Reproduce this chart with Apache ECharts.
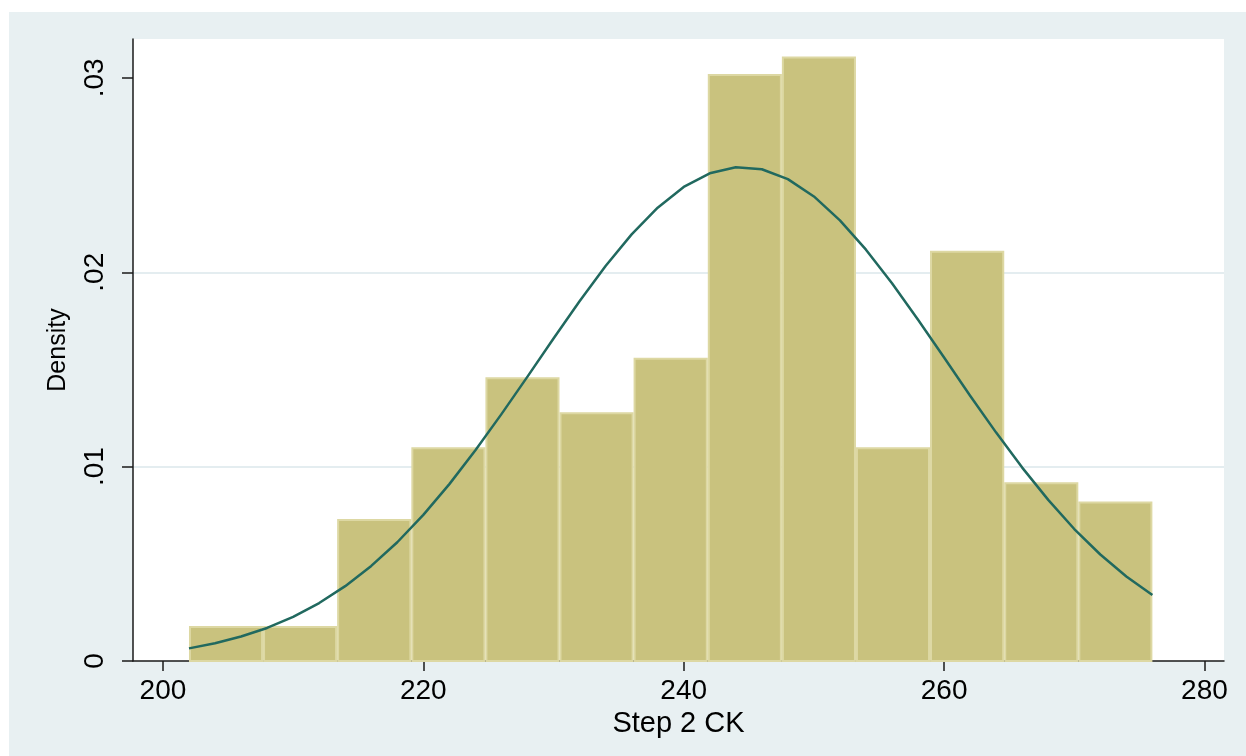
<!DOCTYPE html>
<html>
<head>
<meta charset="utf-8">
<script src="https://cdn.jsdelivr.net/npm/echarts@6/dist/echarts.min.js"></script>
<style>
  html, body { margin: 0; padding: 0; background: #ffffff; width: 1246px; height: 756px; overflow: hidden; }
  #chart { position: absolute; left: 9px; top: 12px; width: 1237px; height: 744px; }
</style>
</head>
<body>
<div id="chart"></div>
<script>
// Histogram bin edges (Step 2 CK) and bar densities
const binEdges = [202, 207.69, 213.38, 219.08, 224.77, 230.46, 236.15, 241.85, 247.54, 253.23, 258.92, 264.62, 270.31, 276.0];
const densities = [0.0018, 0.0018, 0.0073, 0.0110, 0.0146, 0.0128, 0.0156, 0.0302, 0.0311, 0.0110, 0.0211, 0.0092, 0.0082];

// Normal density overlay
const curveX = [202, 204, 206, 208, 210, 212, 214, 216, 218, 220, 222, 224, 226, 228, 230, 232, 234, 236, 238,
                240, 242, 244, 246, 248, 250, 252, 254, 256, 258, 260, 262, 264, 266, 268, 270, 272, 274, 276];
const curveY = [0.00065, 0.00091, 0.00126, 0.00170, 0.00227, 0.00298, 0.00385, 0.00489, 0.00611, 0.00752,
                0.00910, 0.01084, 0.01270, 0.01463, 0.01659, 0.01851, 0.02032, 0.02195, 0.02332, 0.02439,
                0.02509, 0.02540, 0.02530, 0.02479, 0.02390, 0.02267, 0.02116, 0.01943, 0.01756, 0.01561,
                0.01365, 0.01175, 0.00995, 0.00829, 0.00679, 0.00548, 0.00435, 0.00339];

// Axis ticks
const xTicks = [200, 220, 240, 260, 280];
const yTicks = [0, 0.01, 0.02, 0.03];

const xTitle = 'Step 2 CK';
const yTitle = 'Density';

const FONT = "'Liberation Sans', Arial, Helvetica, sans-serif";

const barData = densities.map((d, i) => [binEdges[i], binEdges[i + 1], d]);
const lineData = curveX.map((x, i) => [x, curveY[i]]);

function fmtY(v) {
  if (Math.abs(v) < 1e-12) return '0';
  return v.toFixed(2).replace(/^0/, '');
}

const chart = echarts.init(document.getElementById('chart'), null, { renderer: 'canvas' });
chart.setOption({
  animation: false,
  backgroundColor: '#e8f0f2',
  grid: {
    left: 124, top: 27, right: 22, bottom: 95,
    show: true, backgroundColor: '#ffffff', borderWidth: 0
  },
  xAxis: {
    type: 'value',
    min: 197.7, max: 281.5,
    name: xTitle,
    nameLocation: 'middle',
    nameGap: 37,
    nameTextStyle: { fontFamily: FONT, fontSize: 29, color: '#000' },
    axisLine: { show: true, onZero: false, lineStyle: { color: '#1a1a1a', width: 1.5 } },
    axisTick: { show: true, length: 10, lineStyle: { color: '#1a1a1a', width: 1.5 }, customValues: xTicks },
    axisLabel: { fontFamily: FONT, fontSize: 28, color: '#000', margin: 16, customValues: xTicks },
    splitLine: { show: false }
  },
  yAxis: {
    type: 'value',
    min: 0, max: 0.032, interval: 0.01,
    name: yTitle,
    nameLocation: 'middle',
    nameGap: 62,
    nameTextStyle: { fontFamily: FONT, fontSize: 25, color: '#000' },
    axisLine: { show: true, lineStyle: { color: '#1a1a1a', width: 1.5 } },
    axisTick: { show: true, length: 11, lineStyle: { color: '#1a1a1a', width: 1.5 }, customValues: yTicks },
    axisLabel: { fontFamily: FONT, fontSize: 28, color: '#000', rotate: 90, margin: 24, customValues: yTicks, formatter: fmtY },
    splitLine: { show: true, showMinLine: false, showMaxLine: false, lineStyle: { color: '#e4edf0', width: 2 } }
  },
  series: [
    {
      type: 'custom',
      data: barData,
      encode: { x: [0, 1], y: 2 },
      z: 2,
      renderItem: function (params, api) {
        const p0 = api.coord([api.value(0), 0]);
        const p1 = api.coord([api.value(1), api.value(2)]);
        const x = p0[0] + 1, y = p1[1] + 1;
        const w = p1[0] - p0[0] - 2, h = p0[1] - p1[1] - 1;
        return {
          type: 'rect',
          shape: { x: x, y: y, width: w, height: h },
          style: { fill: '#c9c27e', stroke: '#ddd8a3', lineWidth: 2 }
        };
      }
    },
    {
      type: 'line',
      data: lineData,
      smooth: false,
      showSymbol: false,
      z: 3,
      lineStyle: { color: '#21695f', width: 2.5, join: 'round' }
    }
  ]
});
</script>
</body>
</html>
